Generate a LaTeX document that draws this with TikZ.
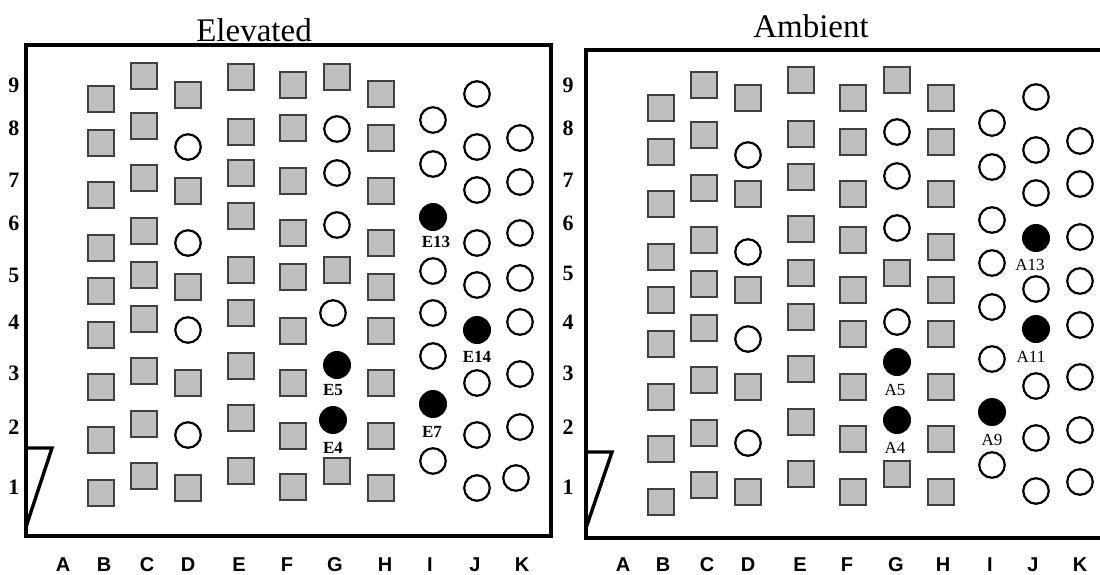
\documentclass[tikz,border=0pt]{standalone}
\usepackage{fontspec}
\setmainfont{Liberation Serif}
\setsansfont{Liberation Sans}
\begin{document}
\begin{tikzpicture}[x=1pt,y=-1pt,
  sq/.style={draw=black!75,line width=1.4pt,fill=black!25,minimum size=26pt,inner sep=0pt},
  oc/.style={circle,draw=black,line width=2.2pt,minimum size=25.5pt,inner sep=0pt},
  bc/.style={circle,fill=black,minimum size=28pt,inner sep=0pt},
  frame/.style={line width=3.4pt,line join=miter},
  flap/.style={line width=3.4pt,line join=miter},
  title/.style={font=\fontsize{33}{36}\selectfont,anchor=base,inner sep=0pt},
  rowlbl/.style={font=\fontsize{22}{24}\selectfont\bfseries,inner sep=0pt},
  collbl/.style={font=\sffamily\bfseries\fontsize{20}{22}\selectfont,inner sep=0pt},
  elbl/.style={font=\fontsize{17}{19}\selectfont\bfseries,inner sep=0pt},
  albl/.style={font=\fontsize{17}{19}\selectfont,inner sep=0pt}]
\useasboundingbox (0,0) rectangle (1100,574);
\clip (0,0) rectangle (1100,574);
% titles
\node[title] (tE) at (254,41) {Elevated};
\node[title] (tA) at (811,37) {Ambient};
% frames
\draw[frame] (26,45) rectangle (551,536);
\draw[frame] (1110,50) -- (586,50) -- (586,538) -- (1110,538);
% flaps
\draw[flap] (26,448) -- (52,448) -- (26,527);
\draw[flap] (586,452) -- (612,452) -- (586,528);
% row labels
\foreach \y/\t [count=\i] in {85/9,128/8,180/7,223/6,275/5,322/4,373/3,427/2,487/1}
  \node[rowlbl] (rL\i) at (14,\y) {\t};
\foreach \y/\t [count=\i] in {85/9,128/8,180/7,223/6,273/5,322/4,373/3,427/2,487/1}
  \node[rowlbl] (rR\i) at (568,\y) {\t};
% column labels
\foreach \x/\t [count=\i] in {63/A,104/B,147/C,188/D,239/E,287/F,335/G,385/H,430/I,475/J,522/K}
  \node[collbl] (cL\i) at (\x,565) {\t};
\foreach \x/\t [count=\i] in {623/A,663/B,707/C,748/D,800/E,847/F,896/G,943/H,990/I,1033/J,1080/K}
  \node[collbl] (cR\i) at (\x,565) {\t};
% left squares
\foreach \x/\y [count=\i] in {101/99,101/143,101/195,101/248,101/291,101/335,101/387,101/440,101/493,
  144/76,144/126,144/178,144/231,144/275,144/319,144/371,144/424,144/476,
  188/95,188/191,188/287,188/383,188/488,
  241/77,241/132,241/173,241/216,241/270,241/313,241/366,241/418,241/471,
  293/85,293/128,293/181,293/233,293/277,293/331,293/383,293/436,293/487,
  337/77,337/270,337/471,
  381/94,381/138,381/191,381/243,381/287,381/331,381/383,381/436,381/488}
  \node[sq] (Ls\i) at (\x,\y) {};
% left open circles
\foreach \x/\y [count=\i] in {188/147,188/243,188/330,188/435,
  337/129,337/173,337/225,333/313,
  433/120,433/164,433/271,433/313,433/356,433/461,
  477/94,477/147,477/190,477/243,477/285,477/383,477/435,477/488,
  520/138,520/182,520/233,520/278,520/322,520/374,520/427,516/478}
  \node[oc] (Lo\i) at (\x,\y) {};
% left black circles and labels
\foreach \x/\y/\lx/\ly/\t in {337/365/333/390/E5,333/420/333/448/E4,433/217/436/242/E13,433/404/432/432/E7,477/330/477/357/E14}{
  \node[bc] (b\t) at (\x,\y) {};
  \node[elbl] (l\t) at (\lx,\ly) {\t};
}
% right squares
\foreach \x/\y [count=\i] in {661/108,661/152,661/204,661/257,661/300,661/344,661/397,661/449,661/502,
  704/85,704/135,704/188,704/240,704/284,704/328,704/380,704/433,704/485,
  748/98,748/194,748/290,748/387,748/492,
  801/80,801/134,801/177,801/229,801/273,801/317,801/369,801/422,801/474,
  853/98,853/142,853/194,853/240,853/290,853/334,853/387,853/439,853/492,
  897/80,897/273,897/474,
  941/98,941/142,941/194,941/247,941/290,941/334,941/387,941/439,941/492}
  \node[sq] (Rs\i) at (\x,\y) {};
% right open circles
\foreach \x/\y [count=\i] in {748/155,748/252,748/339,748/443,
  897/132,897/176,897/228,897/322,
  992/123,992/167,992/220,992/263,992/307,992/359,992/465,
  1036/97,1036/150,1036/193,1036/289,1036/386,1036/438,1036/491,
  1080/141,1080/184,1080/237,1080/281,1080/325,1080/377,1080/430,1080/482}
  \node[oc] (Ro\i) at (\x,\y) {};
% right black circles and labels
\foreach \x/\y/\lx/\ly/\t in {897/362/895/390/A5,897/420/895/448/A4,992/412/992/440/A9,1036/238/1030/265/A13,1036/329/1031/357/A11}{
  \node[bc] (b\t) at (\x,\y) {};
  \node[albl] (l\t) at (\lx,\ly) {\t};
}
\end{tikzpicture}
\end{document}
